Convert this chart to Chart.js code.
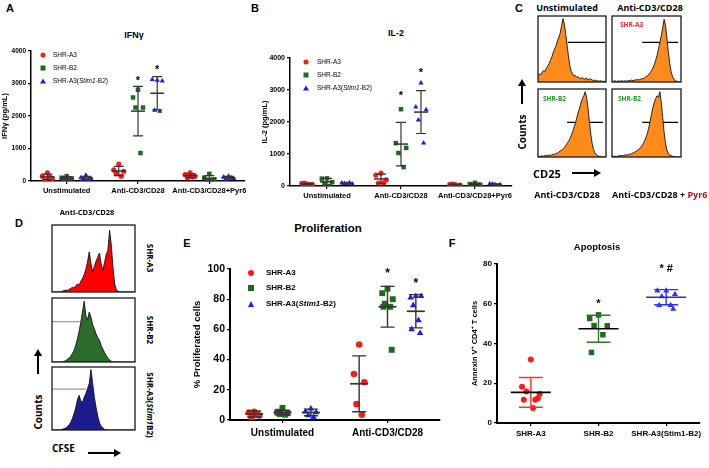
<!DOCTYPE html>
<html>
<head>
<meta charset="utf-8">
<title>T cell activation figure</title>
<script src="https://cdn.jsdelivr.net/npm/chart.js@4.4.1/dist/chart.umd.min.js"></script>
<style>
  body { margin: 0; width: 709px; height: 468px; position: relative; overflow: hidden; background: #fff; font-family: 'Liberation Sans', Arial, sans-serif; }
  canvas { position: absolute; }
  .t { position: absolute; white-space: nowrap; font-weight: bold; line-height: 1; color: #000; }
  .o { font-family: 'Open Sans', 'Liberation Sans', sans-serif; }
  .mk { position: absolute; transform: translate(-50%, -50%); }
</style>
</head>
<body>
<svg id="arrows" width="709" height="468" style="position:absolute;left:0;top:0"></svg>
<script>
// ---------- data ----------
const seriesNames = ['SHR-A3', 'SHR-B2', 'SHR-A3(Stim1-B2)'];
const stimGroups = ['Unstimulated', 'Anti-CD3/CD28', 'Anti-CD3/CD28+Pyr6'];
const proGroups = ['Unstimulated', 'Anti-CD3/CD28'];
const cytoTicks = [0, 1000, 2000, 3000, 4000];
const proTicks = [0, 20, 40, 60, 80, 100];
const apoTicks = [0, 20, 40, 60, 80];

// A: IFN-gamma (pg/mL), one list per stimulation group
const ifngA3 = [[250, 150, 80, 30, 120], [520, 340, 300, 230, 150], [250, 200, 150, 100, 120]];
const ifngB2 = [[150, 100, 80, 50, 0], [2810, 2570, 2260, 2260, 860], [220, 100, 50, 0, 30]];
const ifngStim = [[180, 100, 80, 60, 50], [3100, 3120, 3080, 2180, 2150], [150, 120, 80, 50, 100]];
const ifngMeanA3 = [126, 308, 164], ifngSdA3 = [85, 140, 60];
const ifngMeanB2 = [76, 2150, 80], ifngSdB2 = [60, 760, 85];
const ifngMeanStim = [94, 2700, 100], ifngSdStim = [50, 510, 40];
const ifngStars = [[1, 1, 3170], [1, 2, 3500]];

// B: IL-2 (pg/mL)
const il2A3 = [[60, 80, 50, 90, 40], [400, 340, 190, 90, 100], [40, 50, 30, 60]];
const il2B2 = [[240, 230, 120, 60, 0], [2400, 1340, 1190, 1030, 590], [100, 60, 40, 30]];
const il2Stim = [[70, 90, 60, 80, 100], [3220, 2470, 2380, 2060, 1340], [50, 70, 40, 60]];
const il2MeanA3 = [64, 220, 45], il2SdA3 = [20, 150, 12];
const il2MeanB2 = [130, 1310, 58], il2SdB2 = [110, 680, 30];
const il2MeanStim = [80, 2310, 55], il2SdStim = [16, 670, 13];
const il2Stars = [[1, 1, 2900], [1, 2, 3620]];

// E: % proliferated cells
const proA3 = [[5.5, 5, 3, 1.5, 4], [50, 30.5, 25, 10.5, 3.5]];
const proB2 = [[8, 5, 4.5, 4, 3.5, 5.5], [87, 84, 80, 77, 75, 75, 46.5]];
const proStim = [[7.5, 5.5, 5, 3, 2], [82, 81, 82, 76, 66, 60, 57.5]];
const proMeanA3 = [4, 24], proSdA3 = [2, 18.5];
const proMeanB2 = [5, 75], proSdB2 = [1.5, 13.5];
const proMeanStim = [5, 72], proSdStim = [2.2, 11];
const proStars = [[1, 1, 99], [1, 2, 92]];

// F: Annexin V+ CD4+ T cells
const apoA3 = [32, 18.2, 14.6, 15.9, 11.7, 11.7, 12.5, 7.5];
const apoB2 = [54.4, 52.6, 48.9, 49, 44.4, 35.5];
const apoStim = [66.6, 66.6, 64.8, 63.6, 59.2, 59.2, 57.4];
const apoMean = [15.4, 47.4, 63.3], apoSd = [7.5, 6.8, 3.8];
const apoStars = [[1, 1, 61.5, '*'], [2, 2, 79, '* #']];

// C: CD25 histograms (counts, % of max)
const cd25Unstim = [10,12,11,15,17,16,21,24,28,33, 38,45,50,55,62,68,74,85,96,88, 72,55,38,24,16,12,9,10,7,8, 6,5,7,4,5,6,3,4,5,3, 2,3,2,2,1,2,1,1,1,0];
const cd25A3 = [1,1,2,1,1,2,1,2,1,2, 1,2,2,2,3,2,3,3,4,3, 4,5,5,6,8,9,11,14,17,21, 26,33,40,50,60,70,82,95,86,66, 46,28,15,8,4,2,1,1,0,0];
const cd25B2 = [1,1,1,2,1,2,2,2,3,2, 3,4,4,5,6,7,9,10,12,14, 17,20,23,27,32,37,44,50,58,66, 72,80,86,90,96,88,72,52,34,20, 11,6,3,2,1,1,0,0,0,0];
const cd25Pyr6 = [1,1,1,1,1,2,2,2,2,3, 3,3,4,4,5,6,7,8,10,11, 13,16,19,23,28,34,42,52,62,72, 80,86,90,88,96,80,58,36,20,10, 5,3,2,1,1,0,0,0,0,0];
const cd25Gates = [[21.5, 48.5, 60], [21.5, 47, 60], [21, 47, 51], [21.5, 47, 51]];

// D: CFSE histograms
const cfseA3 = [0,0,0,0,0,0,1,2,3,2, 4,5,7,6,9,12,10,16,20,26, 34,45,60,42,30,38,46,52,58,42, 32,44,56,62,92,70,36,12,3,1, 0,0,0,0,0,0,0,0,0,0];
const cfseB2 = [0,0,0,0,0,0,0,1,2,4, 6,9,13,18,26,36,48,62,78,95, 72,66,78,70,58,52,44,38,34,26, 20,15,10,6,3,1,0,0,0,0, 0,0,0,0,0,0,0,0,0,0];
const cfseStim = [0,0,0,0,0,0,1,2,3,5, 8,12,18,26,35,48,55,46,44,52, 58,66,74,96,74,52,36,22,12,6, 3,1,0,0,0,0,0,0,0,0, 0,0,0,0,0,0,0,0,0,0];
const cfseGates = [null, [0, 17, 63], [0, 20, 65]];

// ---------- helpers ----------
Chart.defaults.font.family = "'Liberation Sans', Arial, sans-serif";
Chart.defaults.color = '#000';

const RED = '#ff1a1a', GREEN = '#1e6b1e', BLUE = '#1a1aff';
const jitter = [0, -1, 1, -0.5, 0.5, -0.8, 0.8, 0.25];

function addCanvas(left, top, w, h) {
  const c = document.createElement('canvas');
  c.width = w; c.height = h;
  c.style.left = left + 'px'; c.style.top = top + 'px';
  document.body.appendChild(c);
  return c;
}

function txt(html, x, y, size, o = {}) {
  const d = document.createElement('div');
  d.className = 't' + (o.cls ? ' ' + o.cls : '');
  d.innerHTML = html;
  d.style.left = x + 'px'; d.style.top = y + 'px';
  d.style.fontSize = size + 'px';
  if (o.color) d.style.color = o.color;
  if (o.weight) d.style.fontWeight = o.weight;
  const tr = o.anchor === 'l' ? 'translate(0,-50%)' : 'translate(-50%,-50%)';
  d.style.transform = tr + (o.rot ? ' rotate(' + o.rot + 'deg)' : '');
  document.body.appendChild(d);
}

function marker(style, x, y, d, color) {
  const m = document.createElement('div');
  m.className = 'mk';
  m.style.left = x + 'px'; m.style.top = y + 'px';
  if (style === 'triangle') {
    m.style.width = 0; m.style.height = 0;
    m.style.borderLeft = (d / 2 + 0.5) + 'px solid transparent';
    m.style.borderRight = (d / 2 + 0.5) + 'px solid transparent';
    m.style.borderBottom = d + 'px solid ' + color;
  } else {
    m.style.width = d + 'px'; m.style.height = d + 'px';
    m.style.background = color;
    if (style === 'circle') m.style.borderRadius = '50%';
  }
  document.body.appendChild(m);
}

function legend(x, tx, rows, size, weight, d) {
  const styles = ['circle', 'rect', 'triangle'], cols = [RED, GREEN, BLUE];
  seriesNames.forEach((n, i) => {
    marker(styles[i], x, rows[i], d, cols[i]);
    txt(n.replace('Stim1', '<i>Stim1</i>'), tx, rows[i], size, { anchor: 'l', weight });
  });
}

function arrow(x1, y1, x2, y2) {
  const svg = document.getElementById('arrows');
  const ns = 'http://www.w3.org/2000/svg';
  const ux = (x2 - x1) / Math.hypot(x2 - x1, y2 - y1), uy = (y2 - y1) / Math.hypot(x2 - x1, y2 - y1);
  const l = document.createElementNS(ns, 'line');
  l.setAttribute('x1', x1); l.setAttribute('y1', y1);
  l.setAttribute('x2', x2 - ux * 5); l.setAttribute('y2', y2 - uy * 5);
  l.setAttribute('stroke', '#000'); l.setAttribute('stroke-width', 2);
  svg.appendChild(l);
  const p = document.createElementNS(ns, 'polygon');
  const bx = x2 - ux * 7, by = y2 - uy * 7;
  p.setAttribute('points', `${x2},${y2} ${bx - uy * 4},${by + ux * 4} ${bx + uy * 4},${by - ux * 4}`);
  p.setAttribute('fill', '#000');
  svg.appendChild(p);
}

// mean +/- SD bars and significance marks, placed through the chart scales
const errorBars = {
  id: 'errorBars',
  afterDatasetsDraw(chart, args, o) {
    const { ctx, scales: { x, y } } = chart;
    ctx.save();
    o.bars.forEach(b => {
      const px = x.getPixelForValue(b.x);
      const hi = y.getPixelForValue(b.m + b.sd);
      const lo = y.getPixelForValue(Math.max(b.m - b.sd, 0));
      const pm = y.getPixelForValue(b.m);
      ctx.strokeStyle = b.color; ctx.lineWidth = o.lw;
      ctx.beginPath();
      ctx.moveTo(px, hi); ctx.lineTo(px, lo);
      ctx.moveTo(px - o.cap, hi); ctx.lineTo(px + o.cap, hi);
      ctx.moveTo(px - o.cap, lo); ctx.lineTo(px + o.cap, lo);
      ctx.stroke();
      ctx.strokeStyle = b.meanColor; ctx.lineWidth = o.meanLw;
      ctx.beginPath(); ctx.moveTo(px - o.half, pm); ctx.lineTo(px + o.half, pm); ctx.stroke();
    });
    ctx.fillStyle = '#000';
    ctx.font = o.starFont;
    ctx.textAlign = 'center'; ctx.textBaseline = 'middle';
    o.stars.forEach(s => ctx.fillText(s.t, x.getPixelForValue(s.x), y.getPixelForValue(s.v) + o.starShift));
    ctx.restore();
  }
};

function dotPlot(p) {
  const c = addCanvas(p.left, p.top, p.w, p.h);
  const bars = [];
  const datasets = p.series.map(s => {
    const pts = [];
    s.at.forEach((g, j) => {
      s.vals[j].forEach((v, k) => pts.push({ x: g + s.off + jitter[k % jitter.length] * p.spread, y: v }));
      bars.push({ x: g + s.off, m: s.means[j], sd: s.sds[j], color: s.err || p.err, meanColor: s.meanColor || p.err });
    });
    return { label: s.name, data: pts, pointStyle: s.style, pointRadius: s.r, backgroundColor: s.color, borderColor: s.color, borderWidth: 0 };
  });
  const stars = p.stars.map(st => ({ x: st[0] + p.series[st[1]].off, v: st[2], t: st[3] || '*' }));
  const tickGrid = { drawOnChartArea: false, drawTicks: true, tickLength: 3, color: '#000', lineWidth: 1.2 };
  new Chart(c, {
    type: 'scatter',
    data: { datasets },
    options: {
      responsive: false, animation: false, events: [],
      layout: { padding: { left: 0, right: p.pr, top: p.pt, bottom: 0 } },
      plugins: {
        legend: { display: false }, tooltip: { enabled: false },
        errorBars: { bars, stars, lw: p.lw, meanLw: p.meanLw, cap: p.cap, half: p.half, starFont: p.starFont, starShift: p.starShift }
      },
      scales: {
        x: {
          type: 'linear', min: -0.5, max: p.groups.length - 0.5,
          afterBuildTicks: ax => { ax.ticks = p.groups.map((g, i) => ({ value: i })); },
          ticks: { callback: v => p.groups[v], font: p.xFont, color: '#000', padding: p.xPad, maxRotation: 0, minRotation: 0, autoSkip: false },
          grid: tickGrid,
          border: { color: '#000', width: p.axisW },
          afterFit: ax => { ax.height = p.xh; ax.paddingLeft = 0; ax.paddingRight = 0; }
        },
        y: {
          min: 0, max: p.ymax,
          afterBuildTicks: ax => { ax.ticks = p.yTicks.map(v => ({ value: v })); },
          ticks: { callback: v => String(v), font: p.yFont, color: '#000', padding: 2 },
          grid: tickGrid,
          border: { color: '#000', width: p.axisW },
          title: { display: true, text: p.yTitle, font: p.yTitleFont, color: '#000', padding: { top: p.yTitlePad, bottom: 0 } },
          afterFit: ax => { ax.width = p.yw; ax.paddingTop = 0; ax.paddingBottom = 0; }
        }
      }
    },
    plugins: [errorBars]
  });
}

const frame = {
  id: 'frame',
  afterDraw(chart) {
    const { ctx, chartArea: a } = chart;
    ctx.save();
    ctx.strokeStyle = '#1a1a1a'; ctx.lineWidth = 1.3;
    ctx.strokeRect(a.left, a.top, a.right - a.left, a.bottom - a.top);
    ctx.restore();
  }
};

function histo(left, top, w, h, counts, fill, gate, gateColor) {
  const c = addCanvas(left, top, w, h);
  const ds = [{
    data: counts.map((v, i) => ({ x: i, y: v })), showLine: true, fill: 'origin',
    backgroundColor: fill, borderColor: '#111', borderWidth: 0.9, pointRadius: 0, tension: 0
  }];
  if (gate) ds.push({
    data: [{ x: gate[0], y: gate[2] }, { x: gate[1], y: gate[2] }], showLine: true, fill: false,
    borderColor: gateColor, borderWidth: 1.2, pointRadius: 0
  });
  new Chart(c, {
    type: 'scatter',
    data: { datasets: ds },
    options: {
      responsive: false, animation: false, events: [],
      layout: { padding: 1 },
      plugins: { legend: { display: false }, tooltip: { enabled: false } },
      scales: { x: { display: false, min: 0, max: counts.length - 1 }, y: { display: false, min: 0, max: 100 } }
    },
    plugins: [frame]
  });
}

const bold = s => ({ size: s, weight: 'bold' });

// ---------- A: IFN-gamma ----------
dotPlot({
  left: 0, top: 40, w: 250, h: 165, yw: 31, xh: 24, pt: 11, pr: 5,
  groups: stimGroups, ymax: 4000, yTicks: cytoTicks, spread: 0.07,
  err: '#333', lw: 1.2, meanLw: 1.5, cap: 5, half: 7, axisW: 1.5,
  xFont: bold(7.5), yFont: bold(6.5), xPad: 2,
  yTitle: 'IFNγ (pg/mL)', yTitleFont: bold(7.5), yTitlePad: 0,
  starFont: "bold 11px 'Liberation Sans', Arial", starShift: 3, stars: ifngStars,
  series: [
    { name: seriesNames[0], vals: ifngA3, means: ifngMeanA3, sds: ifngSdA3, at: [0, 1, 2], off: -0.27, style: 'circle', r: 2.6, color: RED },
    { name: seriesNames[1], vals: ifngB2, means: ifngMeanB2, sds: ifngSdB2, at: [0, 1, 2], off: 0, style: 'rect', r: 3.2, color: GREEN },
    { name: seriesNames[2], vals: ifngStim, means: ifngMeanStim, sds: ifngSdStim, at: [0, 1, 2], off: 0.27, style: 'triangle', r: 3, color: BLUE }
  ]
});
txt('A', 10, 8, 11);
txt('IFNγ', 134, 35, 9);
legend(43, 53, [55, 68, 81], 6.5, 'normal', 5);

// ---------- B: IL-2 ----------
dotPlot({
  left: 250, top: 45, w: 267, h: 165, yw: 40, xh: 24, pt: 13, pr: 5,
  groups: stimGroups, ymax: 4000, yTicks: cytoTicks, spread: 0.07,
  err: '#333', lw: 1.2, meanLw: 1.5, cap: 5, half: 7, axisW: 1.5,
  xFont: bold(7.5), yFont: bold(7), xPad: 2,
  yTitle: 'IL-2 (pg/mL)', yTitleFont: bold(7.5), yTitlePad: 10,
  starFont: "bold 11px 'Liberation Sans', Arial", starShift: 3, stars: il2Stars,
  series: [
    { name: seriesNames[0], vals: il2A3, means: il2MeanA3, sds: il2SdA3, at: [0, 1, 2], off: -0.27, style: 'circle', r: 2.6, color: RED },
    { name: seriesNames[1], vals: il2B2, means: il2MeanB2, sds: il2SdB2, at: [0, 1, 2], off: 0, style: 'rect', r: 3.2, color: GREEN },
    { name: seriesNames[2], vals: il2Stim, means: il2MeanStim, sds: il2SdStim, at: [0, 1, 2], off: 0.27, style: 'triangle', r: 3, color: BLUE }
  ]
});
txt('B', 255, 8, 11);
txt('IL-2', 396, 33, 9);
legend(306, 317, [62, 75, 88], 6.5, 'normal', 5);

// ---------- C: CD25 ----------
const orange = '#ff8c1a';
histo(537, 15, 70, 68, cd25Unstim, orange, cd25Gates[0], '#000');
histo(611, 15, 71, 68, cd25A3, orange, cd25Gates[1], '#000');
histo(537, 88, 70, 70, cd25B2, orange, cd25Gates[2], '#000');
histo(611, 88, 71, 70, cd25Pyr6, orange, cd25Gates[3], '#000');
txt('C', 519, 8, 11);
txt('Unstimulated', 567, 7, 9, { cls: 'o' });
txt('Anti-CD3/CD28', 650, 7, 9, { cls: 'o' });
txt('SHR-A3', 620, 25, 6.5, { anchor: 'l', color: '#ff2a2a', cls: 'o' });
txt('SHR-B2', 543, 99, 6.5, { anchor: 'l', color: '#22a022', cls: 'o' });
txt('SHR-B2', 618, 99, 6.5, { anchor: 'l', color: '#22a022', cls: 'o' });
txt('Counts', 522, 132, 10, { rot: -90, cls: 'o' });
arrow(522, 104, 522, 79);
txt('CD25', 533, 173, 11, { anchor: 'l', cls: 'o' });
arrow(572, 173, 601, 173);
txt('Anti-CD3/CD28', 567, 194, 9, { cls: 'o' });
txt('Anti-CD3/CD28 + <span style="color:#a01818">Pyr6</span>', 612, 194, 9, { anchor: 'l', cls: 'o' });

// ---------- D: CFSE ----------
histo(51, 224, 85, 69, cfseA3, '#ff0000', cfseGates[0], '#999');
histo(51, 297, 85, 66, cfseB2, '#2b6b2b', cfseGates[1], '#999');
histo(51, 366, 85, 65, cfseStim, '#1c1c8f', cfseGates[2], '#999');
txt('D', 19, 223, 11);
txt('Anti-CD3/CD28', 87, 213, 7.5, { cls: 'o' });
txt('SHR-A3', 150, 258, 8, { rot: 90, cls: 'o' });
txt('SHR-B2', 150, 330, 8, { rot: 90, cls: 'o' });
txt('SHR-A3(<i>Stim1</i>B2)', 150, 405, 8, { rot: 90, cls: 'o' });
txt('Counts', 38, 412, 10, { rot: -90, cls: 'o' });
arrow(38, 374, 38, 349);
txt('CFSE', 52, 448, 10, { anchor: 'l', cls: 'o' });
arrow(88, 453, 121, 453);

// ---------- E: Proliferation ----------
dotPlot({
  left: 185, top: 255, w: 260, h: 187, yw: 45, xh: 22, pt: 14, pr: 5,
  groups: proGroups, ymax: 100, yTicks: proTicks, spread: 0.05,
  err: '#333', lw: 1.4, meanLw: 1.7, cap: 7, half: 9, axisW: 2,
  xFont: bold(10), yFont: bold(10.5), xPad: 4,
  yTitle: '% Proliferated cells', yTitleFont: bold(9.5), yTitlePad: 7,
  starFont: "bold 12px 'Liberation Sans', Arial", starShift: 3, stars: proStars,
  series: [
    { name: seriesNames[0], vals: proA3, means: proMeanA3, sds: proSdA3, at: [0, 1], off: -0.27, style: 'circle', r: 3.3, color: RED },
    { name: seriesNames[1], vals: proB2, means: proMeanB2, sds: proSdB2, at: [0, 1], off: 0, style: 'rect', r: 4.2, color: GREEN },
    { name: seriesNames[2], vals: proStim, means: proMeanStim, sds: proSdStim, at: [0, 1], off: 0.27, style: 'triangle', r: 3.8, color: BLUE }
  ]
});
txt('E', 187, 243, 11);
txt('Proliferation', 328, 229, 11.5);
legend(251, 266, [273, 288, 304], 8, 'bold', 6);

// ---------- F: Apoptosis ----------
dotPlot({
  left: 455, top: 252, w: 250, h: 193, yw: 42, xh: 22, pt: 12, pr: 5,
  groups: seriesNames, ymax: 80, yTicks: apoTicks, spread: 0.13,
  err: '#000', lw: 1.4, meanLw: 1.6, cap: 12, half: 20, axisW: 2,
  xFont: bold(8), yFont: bold(8), xPad: 3,
  yTitle: 'Annexin V⁺ CD4⁺ T cells', yTitleFont: bold(7.5), yTitlePad: 15,
  starFont: "bold 11px 'Liberation Sans', Arial", starShift: 3, stars: apoStars,
  series: [
    { name: seriesNames[0], vals: [apoA3], means: [apoMean[0]], sds: [apoSd[0]], at: [0], off: 0, style: 'circle', r: 3, color: RED, err: '#ff3030', meanColor: '#000' },
    { name: seriesNames[1], vals: [apoB2], means: [apoMean[1]], sds: [apoSd[1]], at: [1], off: 0, style: 'rect', r: 3.9, color: GREEN, err: '#2a7a2a', meanColor: '#000' },
    { name: seriesNames[2], vals: [apoStim], means: [apoMean[2]], sds: [apoSd[2]], at: [2], off: 0, style: 'triangle', r: 3.5, color: '#3030ff', err: '#3030ff', meanColor: '#2a2acc' }
  ]
});
txt('F', 452, 243, 11);
txt('Apoptosis', 597, 247, 9.5);
</script>
</body>
</html>
